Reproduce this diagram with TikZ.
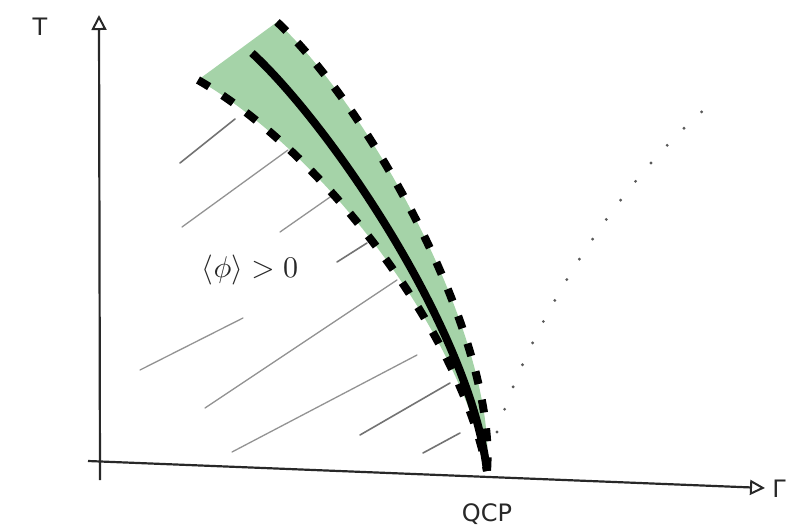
\documentclass[tikz,border=0pt]{standalone}
\usepackage{fontspec}
\setsansfont{DejaVu Sans}
\usetikzlibrary{arrows.meta}
\definecolor{bandgreen}{RGB}{165,211,168}
\definecolor{inkgray}{RGB}{40,40,40}
\begin{document}
\begin{tikzpicture}[x=1pt,y=-1pt,
  axisline/.style={draw=inkgray,line width=2.2pt,-{Triangle[open,length=15pt,width=15pt,line width=2pt]}},
  hatch/.style={draw=gray!85,line width=1.3pt,line cap=round},
  hatchdark/.style={draw=gray!90!black,line width=1.6pt,line cap=round},
  bandedge/.style={draw=black,line width=8pt,dash pattern=on 13pt off 16pt},
  centerline/.style={draw=black,line width=8pt},
  dotline/.style={draw=gray!70!black,line width=3.2pt,line cap=round,dash pattern=on 0pt off 24pt},
  lbl/.style={text=inkgray,font=\sffamily\fontsize{24}{24}\selectfont,inner sep=0pt}]
\useasboundingbox (0,0) rectangle (801,531);
% key points
\coordinate (qcp) at (487,471);
\coordinate (L0) at (198,80);
\coordinate (R0) at (277,22);
\coordinate (C0) at (252,53);
\coordinate (yb) at (100,480);
\coordinate (yt) at (99,15);
\coordinate (xl) at (88,461);
\coordinate (xr) at (765,488);
\coordinate (d0) at (497,432);
\coordinate (d1) at (712,103);
% hatching
\draw[hatchdark] (180,163) -- (235,119);
\draw[hatch] (182,227) -- (288,150);
\draw[hatch] (280,232) -- (333,195);
\draw[hatchdark] (337,262) -- (367,243);
\draw[hatch] (140,370) -- (243,318);
\draw[hatch] (205,408) -- (397,280);
\draw[hatch] (232,452) -- (417,355);
\draw[hatchdark] (360,435) -- (450,383);
\draw[hatchdark] (423,453) -- (460,433);
% band
\fill[bandgreen] (L0) .. controls (320,150) and (460,330) .. (qcp)
  .. controls (497,340) and (372,110) .. (R0) -- cycle;
% dotted crossover line
\draw[dotline] (d0) .. controls (535,310) and (625,175) .. (d1);
% axes
\draw[axisline] (yb) -- (yt);
\draw[axisline] (xl) -- (xr);
% band edges and centre line
\draw[bandedge] (L0) .. controls (320,150) and (460,330) .. (qcp);
\draw[bandedge] (R0) .. controls (372,110) and (497,340) .. (qcp);
\draw[centerline] (C0) .. controls (330,125) and (470,330) .. (qcp);
% labels
\node[lbl] (tlabel) at (40,27) {T};
\node[lbl] (glabel) at (779,489) {Γ};
\node[lbl] (qcplabel) at (487,514) {QCP};
\node[text=inkgray,inner sep=0pt] (order) at (250,270) {\scalebox{3.0}{$\langle\phi\rangle > 0$}};
\end{tikzpicture}
\end{document}
